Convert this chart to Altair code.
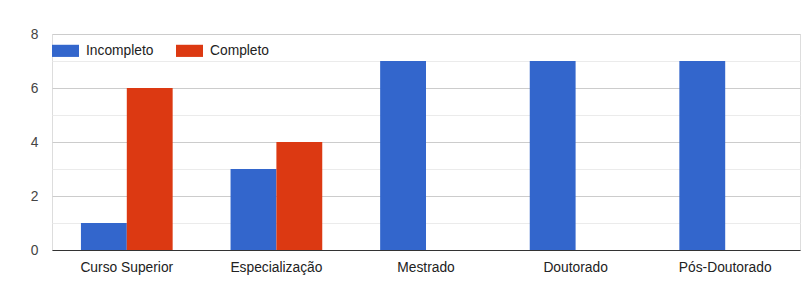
import altair as alt
import pandas as pd

categories = ["Curso Superior", "Especialização", "Mestrado", "Doutorado", "Pós-Doutorado"]
series = ["Incompleto", "Completo"]
incompleto = [1, 3, 7, 7, 7]
completo = [6, 4, 0, 0, 0]
colors = ["#3366cc", "#dc3912"]

rows = []
for i, c in enumerate(categories):
    rows.append({"nivel": c, "status": "Incompleto", "valor": incompleto[i]})
    rows.append({"nivel": c, "status": "Completo", "valor": completo[i]})
df = pd.DataFrame(rows)

FONT = "Liberation Sans"
FS = 13.8

chart = alt.Chart(df).mark_bar(stroke=None).encode(
    x=alt.X("nivel:N", sort=categories, title=None,
            scale=alt.Scale(paddingInner=0.387, paddingOuter=0.1935),
            axis=alt.Axis(labelAngle=0, ticks=False, tickSize=0, labelPadding=10,
                          domain=True, domainColor="#333333", domainWidth=1,
                          labelFont=FONT, labelFontSize=FS, labelColor="#222222",
                          grid=False)),
    xOffset=alt.XOffset("status:N", sort=series),
    y=alt.Y("valor:Q", title=None,
            scale=alt.Scale(domain=[0, 8], nice=False),
            axis=alt.Axis(values=[0, 1, 2, 3, 4, 5, 6, 7, 8],
                          labelExpr="datum.value % 2 === 0 ? datum.label : ''",
                          ticks=False, tickSize=0, domain=False, labelPadding=14,
                          labelFont=FONT, labelFontSize=FS, labelColor="#444444",
                          gridColor={"condition": {"test": "datum.value % 2 === 0", "value": "#cccccc"},
                                     "value": "#ebebeb"})),
    color=alt.Color("status:N", sort=series,
                    scale=alt.Scale(domain=series, range=colors),
                    legend=alt.Legend(title=None, orient="none", legendX=0, legendY=3,
                                      direction="horizontal",
                                      symbolType="M-1,-0.45H1V0.45H-1Z", symbolSize=729,
                                      symbolStrokeWidth=0, symbolOpacity=1,
                                      labelFont=FONT, labelFontSize=FS, labelColor="#222222",
                                      labelOffset=7, columnPadding=22, padding=0)),
).properties(
    width=748, height=216,
    autosize=alt.AutoSizeParams(type="none"),
    padding={"left": 52, "top": 34, "right": 11, "bottom": 39},
).configure_view(stroke=None).configure(background="white")

chart.save("out.html", embed_options={"renderer": "svg", "actions": False})
